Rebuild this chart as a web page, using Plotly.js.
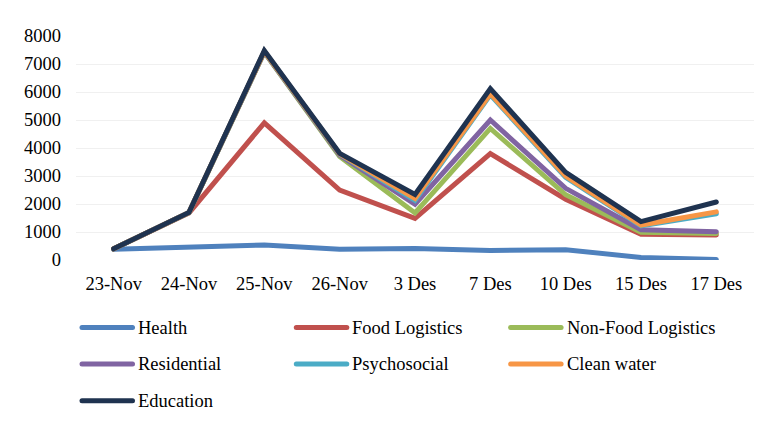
<!DOCTYPE html>
<html>
<head>
<meta charset="utf-8">
<script src="https://cdn.plot.ly/plotly-3.0.1.min.js"></script>
<style>
  html, body { margin: 0; padding: 0; background: #ffffff; }
  #chart { width: 775px; height: 427px; }
  /* rounded ends on the series lines and the legend swatches */
  #chart .scatterlayer .js-line,
  #chart .shapelayer path { stroke-linecap: round; }
</style>
</head>
<body>
<div id="chart"></div>
<script>
// Daily figures per sector, 23 Nov – 17 Dec
const categories = ['23-Nov', '24-Nov', '25-Nov', '26-Nov', '3 Des', '7 Des', '10 Des', '15 Des', '17 Des'];
const yTicks = [0, 1000, 2000, 3000, 4000, 5000, 6000, 7000, 8000];

const health       = [380, 460, 540, 380, 410, 340, 370, 90, 20];
const food         = [400, 1680, 4900, 2500, 1490, 3800, 2170, 920, 890];
const nonFood      = [400, 1690, 7420, 3700, 1680, 4700, 2330, 990, 950];
const residential  = [400, 1700, 7430, 3740, 1990, 5000, 2560, 1080, 1010];
const psychosocial = [400, 1700, 7440, 3780, 2130, 5900, 2950, 1220, 1650];
const cleanWater   = [400, 1700, 7450, 3790, 2200, 5940, 3000, 1250, 1720];
const education    = [400, 1700, 7480, 3810, 2340, 6120, 3130, 1370, 2070];

const seriesNames  = ['Health', 'Food Logistics', 'Non-Food Logistics', 'Residential', 'Psychosocial', 'Clean water', 'Education'];
const seriesValues = [health, food, nonFood, residential, psychosocial, cleanWater, education];
const seriesColors = ['#4F81BD', '#C0504D', '#9BBB59', '#8064A2', '#4BACC6', '#F79646', '#1F3350'];

const FONT = "'Liberation Serif', 'Times New Roman', serif";
const FS = 18.5;

const W = 775, H = 427;
const M = { l: 76, r: 21, t: 36, b: 167 };
const plotW = W - M.l - M.r;
const plotH = H - M.t - M.b;

// pixel position on the page -> paper coordinates
const px = x => (x - M.l) / plotW;
const py = y => (H - M.b - y) / plotH;

const traces = seriesNames.map((name, i) => ({
  type: 'scatter',
  mode: 'lines',
  name: name,
  x: categories,
  y: seriesValues[i],
  line: { color: seriesColors[i], width: 5, shape: 'linear' },
  hoverinfo: 'x+y+name',
  showlegend: false
}));

// Legend below the plot: three entries per row
const legendCols = 3;
const legendX0 = 79.5, legendColStep = 214.3, legendSwatch = 55.5, legendTextGap = 4;
const legendY0 = 327.5, legendRowStep = 36.6;

const shapes = [];
const annotations = [];
seriesNames.forEach((name, i) => {
  const col = i % legendCols;
  const row = Math.floor(i / legendCols);
  const x = legendX0 + col * legendColStep;
  const y = legendY0 + row * legendRowStep;
  shapes.push({
    type: 'line', xref: 'paper', yref: 'paper', layer: 'above',
    x0: px(x + 2.5), x1: px(x + legendSwatch - 2.5), y0: py(y), y1: py(y),
    line: { color: seriesColors[i], width: 5 }
  });
  annotations.push({
    xref: 'paper', yref: 'paper', showarrow: false,
    x: px(x + legendSwatch + legendTextGap - 3), y: py(y),
    xanchor: 'left', yanchor: 'middle',
    text: name,
    font: { family: FONT, size: FS, color: '#000000' }
  });
});

const layout = {
  width: W,
  height: H,
  paper_bgcolor: '#ffffff',
  plot_bgcolor: '#ffffff',
  margin: M,
  font: { family: FONT, size: FS, color: '#000000' },
  showlegend: false,
  xaxis: {
    type: 'category',
    categoryorder: 'array',
    categoryarray: categories,
    range: [-0.5, categories.length - 0.5],
    showgrid: false,
    zeroline: false,
    showline: false,
    ticks: '',
    ticklabelstandoff: 10,
    tickfont: { family: FONT, size: FS, color: '#000000' }
  },
  yaxis: {
    range: [0, 8000],
    tickvals: yTicks,
    ticktext: yTicks.map(String),
    showgrid: true,
    gridcolor: '#F0F0F0',
    gridwidth: 1,
    zeroline: false,
    showline: false,
    ticks: '',
    ticklabelstandoff: 14,
    tickfont: { family: FONT, size: FS, color: '#000000' }
  },
  shapes: shapes,
  annotations: annotations
};

Plotly.newPlot('chart', traces, layout, { displayModeBar: false, staticPlot: true });
</script>
</body>
</html>
